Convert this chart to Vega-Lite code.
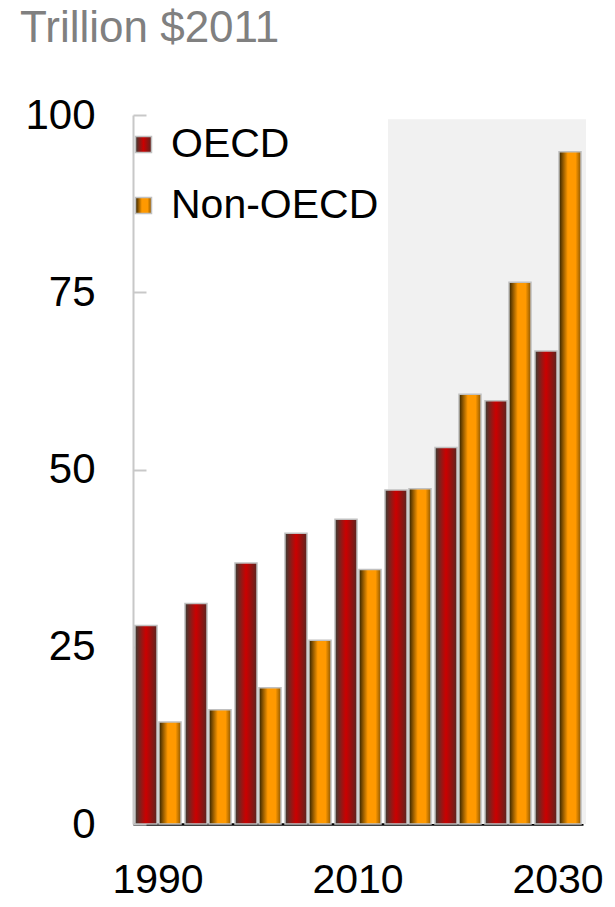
{
  "$schema": "https://vega.github.io/schema/vega-lite/v6.json",
  "width": 450,
  "height": 709,
  "autosize": {"type": "none"},
  "padding": {"left": 133, "top": 115, "right": 32, "bottom": 83},
  "background": "white",
  "title": {
    "text": "Trillion $2011",
    "anchor": "start",
    "frame": "group",
    "dx": -113,
    "offset": 43,
    "fontSize": 44,
    "font": "Liberation Sans",
    "fontWeight": "normal",
    "color": "#808080"
  },
  "config": {"view": {"stroke": null}},
  "datasets": {
    "gdp": [
      {"year": 1990, "region": "OECD", "value": 28.0},
      {"year": 1990, "region": "Non-OECD", "value": 14.4},
      {"year": 1995, "region": "OECD", "value": 31.1},
      {"year": 1995, "region": "Non-OECD", "value": 16.1},
      {"year": 2000, "region": "OECD", "value": 36.8},
      {"year": 2000, "region": "Non-OECD", "value": 19.2},
      {"year": 2005, "region": "OECD", "value": 41.0},
      {"year": 2005, "region": "Non-OECD", "value": 25.9},
      {"year": 2010, "region": "OECD", "value": 43.0},
      {"year": 2010, "region": "Non-OECD", "value": 35.9},
      {"year": 2015, "region": "OECD", "value": 47.1},
      {"year": 2015, "region": "Non-OECD", "value": 47.3},
      {"year": 2020, "region": "OECD", "value": 53.1},
      {"year": 2020, "region": "Non-OECD", "value": 60.6},
      {"year": 2025, "region": "OECD", "value": 59.7},
      {"year": 2025, "region": "Non-OECD", "value": 76.4},
      {"year": 2030, "region": "OECD", "value": 66.7},
      {"year": 2030, "region": "Non-OECD", "value": 94.8}
    ]
  },
  "layer": [
    {
      "data": {"values": [{"start": 2013, "end": 2032.8, "low": 0, "high": 99.4}]},
      "mark": {"type": "rect", "color": "#f1f1f1"},
      "encoding": {
        "x": {"field": "start", "type": "quantitative", "scale": {"domain": [1987.5, 2032.5], "nice": false, "zero": false}, "axis": null},
        "x2": {"field": "end"},
        "y": {"field": "low", "type": "quantitative", "scale": {"domain": [0, 100], "nice": false},
          "axis": {"values": [0, 25, 50, 75, 100], "grid": false, "title": null, "domainColor": "#c8c8c8", "domainWidth": 2, "tickColor": "#c8c8c8", "tickWidth": 2, "tickSize": -13, "labelFont": "Liberation Sans", "labelFontSize": 42, "labelColor": "#000000", "labelPadding": 51, "labelFlush": false}},
        "y2": {"field": "high"}
      }
    },
    {
      "data": {"name": "gdp"},
      "mark": {
        "type": "bar",
        "strokeWidth": 1.5,
        "fill": {"expr": "(datum.region || datum.value) === 'OECD' ? {gradient: 'linear', x1: 0, y1: 0, x2: 1, y2: 0, stops: [{offset: 0, color: '#3a3d35'}, {offset: 0.5, color: '#cc0000'}, {offset: 1, color: '#5a2520'}]} : {gradient: 'linear', x1: 0, y1: 0, x2: 1, y2: 0, stops: [{offset: 0, color: '#2e2000'}, {offset: 0.4, color: '#ff9900'}, {offset: 0.75, color: '#ff9900'}, {offset: 1, color: '#8a5500'}]}"}
      },
      "encoding": {
        "x": {"field": "year", "type": "ordinal", "scale": {"paddingInner": 0.08, "paddingOuter": 0.04},
          "axis": {"values": [1990, 2010, 2030], "title": null, "labelAngle": 0, "ticks": false, "domainColor": "#000000", "domainWidth": 2.5, "labelFont": "Liberation Sans", "labelFontSize": 41, "labelColor": "#000000", "labelPadding": 36}},
        "xOffset": {"field": "region", "type": "nominal", "scale": {"domain": ["OECD", "Non-OECD"], "paddingInner": 0.083, "paddingOuter": 0}},
        "y": {"field": "value", "type": "quantitative",
          "axis": {"values": [0, 25, 50, 75, 100], "grid": false, "title": null, "domainColor": "#c8c8c8", "domainWidth": 2, "tickColor": "#c8c8c8", "tickWidth": 2, "tickSize": -13, "labelFont": "Liberation Sans", "labelFontSize": 42, "labelColor": "#000000", "labelPadding": 51, "labelFlush": false}},
        "stroke": {
          "field": "region",
          "type": "nominal",
          "scale": {"domain": ["OECD", "Non-OECD"], "range": ["#c0c0c0", "#c0c0c0"]},
          "legend": {
            "title": null,
            "orient": "none",
            "legendX": -10,
            "legendY": 9,
            "padding": 0,
            "symbolType": "square",
            "symbolSize": 256,
            "symbolStrokeWidth": 1.5,
            "labelFont": "Liberation Sans",
            "labelFontSize": 41,
            "labelColor": "#000000",
            "labelOffset": 7,
            "rowPadding": 19,
            "labelLimit": 400
          }
        }
      }
    }
  ],
  "resolve": {"scale": {"x": "independent"}}
}
